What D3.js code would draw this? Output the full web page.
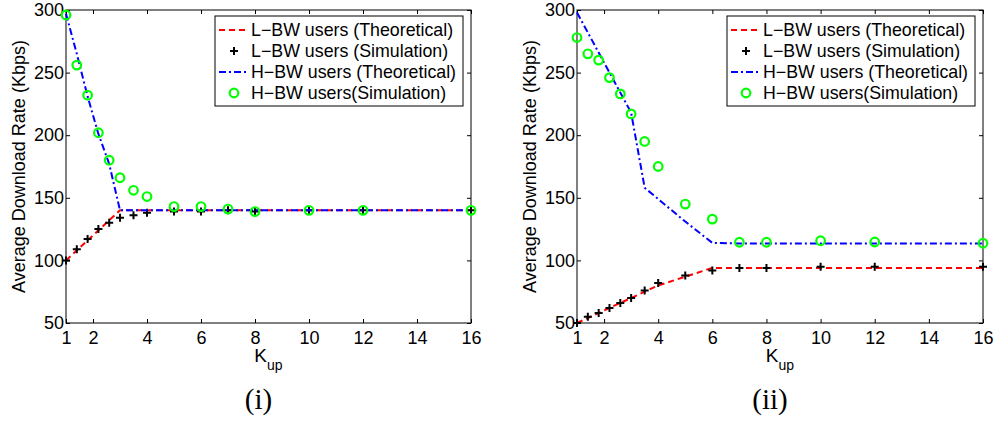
<!DOCTYPE html>
<html>
<head>
<meta charset="utf-8">
<script src="https://cdn.jsdelivr.net/npm/d3@7"></script>
<style>
  body { margin: 0; background: #fff; }
  svg text { font-family: "Liberation Sans", Arial, sans-serif; fill: #000; }
  .axis path { display: none; }
  .axis line { stroke: #000; stroke-width: 1; }
</style>
</head>
<body>
<svg id="chart" width="995" height="423"></svg>
<script>
// K_up values used in both panels
const kVals = [1, 1.4, 1.8, 2.2, 2.6, 3, 3.5, 4, 5, 6, 7, 8, 10, 12, 16];
const xTicks = [1, 2, 4, 6, 8, 10, 12, 14, 16];
const yTicks = [50, 100, 150, 200, 250, 300];

// panel (i)
const lowTheoryA = [100, 108, 116, 124, 132, 140, 140, 140, 140, 140, 140, 140, 140, 140, 140];
const lowSimA    = [100, 109, 117, 125, 130, 134, 136, 138, 139, 139, 140, 139, 140, 140, 140];
const highTheoryA = [297, 265, 231, 201, 177, 140, 140, 140, 140, 140, 140, 140, 140, 140, 140];
const highSimA    = [296, 256, 232, 202, 180, 166, 156, 151, 143, 143, 141, 139, 140, 140, 140];

// panel (ii)
const lowTheoryB = [50, 54, 58, 62, 66, 70, 75, 80, 87, 94, 94, 94, 94, 94, 94];
const lowSimB    = [50, 55, 58, 62, 66, 70, 76, 82, 88, 92, 94, 94, 95, 95, 95];
const highTheoryB = [298, 282, 266, 250, 234, 218, 158, 149, 131, 114, 113.5, 113.5, 113.5, 113.5, 113.5];
const highSimB    = [278, 265, 260, 246, 233, 217, 195, 175, 145, 133, 114.5, 114.5, 115.7, 114.7, 113.7];

const legendLabels = ["L\u2212BW users (Theoretical)", "L\u2212BW users (Simulation)",
                      "H\u2212BW users (Theoretical)", "H\u2212BW users(Simulation)"];

const svg = d3.select("#chart");
const plotTop = 10, plotBottom = 323;

function drawPanel(left, right, series, caption) {
    const x = d3.scaleLinear().domain([1, 16]).range([left, right]);
    const y = d3.scaleLinear().domain([50, 300]).range([plotBottom, plotTop]);
    const g = svg.append("g");

    // ticks, inward on all four sides
    g.append("g").attr("class", "axis")
        .attr("transform", "translate(0," + plotBottom + ")")
        .call(d3.axisBottom(x).tickValues(xTicks).tickSizeInner(-4).tickSizeOuter(0).tickPadding(8))
        .selectAll("text").style("font-size", "18px");
    g.append("g").attr("class", "axis")
        .attr("transform", "translate(0," + plotTop + ")")
        .call(d3.axisTop(x).tickValues(xTicks).tickSizeInner(-4).tickSizeOuter(0).tickFormat(""));
    g.append("g").attr("class", "axis")
        .attr("transform", "translate(" + left + ",0)")
        .call(d3.axisLeft(y).tickValues(yTicks).tickSizeInner(-4).tickSizeOuter(0).tickPadding(2))
        .selectAll("text").style("font-size", "18px");
    g.append("g").attr("class", "axis")
        .attr("transform", "translate(" + right + ",0)")
        .call(d3.axisRight(y).tickValues(yTicks).tickSizeInner(-4).tickSizeOuter(0).tickFormat(""));

    g.append("rect")
        .attr("x", left).attr("y", plotTop)
        .attr("width", right - left).attr("height", plotBottom - plotTop)
        .attr("fill", "none").attr("stroke", "#000").attr("stroke-width", 1);

    const line = d3.line().x((d, i) => x(kVals[i])).y(d => y(d));

    g.append("path").datum(series.lowTheory)
        .attr("d", line).attr("fill", "none")
        .attr("stroke", "#ff0000").attr("stroke-width", 2)
        .attr("stroke-dasharray", "6,4");

    g.selectAll(".cross").data(series.lowSim).enter().append("path")
        .attr("class", "cross")
        .attr("d", (d, i) => {
            const cx = x(kVals[i]), cy = y(d);
            return "M" + (cx - 4) + "," + cy + "H" + (cx + 4) + "M" + cx + "," + (cy - 4) + "V" + (cy + 4);
        })
        .attr("stroke", "#000").attr("stroke-width", 2);

    g.append("path").datum(series.highTheory)
        .attr("d", line).attr("fill", "none")
        .attr("stroke", "#0000ff").attr("stroke-width", 2)
        .attr("stroke-dasharray", "7,3,2,3");

    g.selectAll(".circ").data(series.highSim).enter().append("circle")
        .attr("class", "circ")
        .attr("cx", (d, i) => x(kVals[i])).attr("cy", d => y(d))
        .attr("r", 4.3).attr("fill", "none")
        .attr("stroke", "#00ff00").attr("stroke-width", 2.2);

    // legend
    const lx = right - 8 - 248, ly = 16;
    g.append("rect").attr("x", lx).attr("y", ly).attr("width", 248).attr("height", 90)
        .attr("fill", "#fff").attr("stroke", "#000").attr("stroke-width", 1);
    const rows = [30, 51, 72, 93];
    const sx1 = lx + 4, sx2 = lx + 34, mx = (sx1 + sx2) / 2;
    g.append("line").attr("x1", sx1).attr("x2", sx2).attr("y1", rows[0]).attr("y2", rows[0])
        .attr("stroke", "#ff0000").attr("stroke-width", 2).attr("stroke-dasharray", "6,4");
    g.append("path")
        .attr("d", "M" + (mx - 4) + "," + rows[1] + "H" + (mx + 4) + "M" + mx + "," + (rows[1] - 4) + "V" + (rows[1] + 4))
        .attr("stroke", "#000").attr("stroke-width", 2);
    g.append("line").attr("x1", sx1).attr("x2", sx2).attr("y1", rows[2]).attr("y2", rows[2])
        .attr("stroke", "#0000ff").attr("stroke-width", 2).attr("stroke-dasharray", "7,3,2,3");
    g.append("circle").attr("cx", mx).attr("cy", rows[3]).attr("r", 4.3)
        .attr("fill", "none").attr("stroke", "#00ff00").attr("stroke-width", 2.2);
    g.selectAll(".leg").data(legendLabels).enter().append("text")
        .attr("class", "leg")
        .attr("x", lx + 36).attr("y", (d, i) => rows[i]).attr("dy", "0.35em")
        .style("font-size", "17.8px")
        .text(d => d);

    // axis labels
    const midX = (left + right) / 2;
    const xl = g.append("text").attr("x", midX).attr("y", 362)
        .attr("text-anchor", "middle").style("font-size", "19px");
    xl.append("tspan").text("K");
    xl.append("tspan").attr("dy", 8).style("font-size", "14px").text("up");

    g.append("text")
        .attr("transform", "translate(" + (left - 47) + "," + ((plotTop + plotBottom) / 2) + ") rotate(-90)")
        .attr("text-anchor", "middle").attr("dy", "0.35em")
        .style("font-size", "18px")
        .text("Average Download Rate (Kbps)");

    g.append("text").attr("x", midX - 10).attr("y", 409)
        .attr("text-anchor", "middle")
        .style("font-family", "'Liberation Serif', 'DejaVu Serif', serif")
        .style("font-size", "29px")
        .text(caption);
}

drawPanel(66, 471, {lowTheory: lowTheoryA, lowSim: lowSimA, highTheory: highTheoryA, highSim: highSimA}, "(i)");
drawPanel(577, 983, {lowTheory: lowTheoryB, lowSim: lowSimB, highTheory: highTheoryB, highSim: highSimB}, "(ii)");
</script>
</body>
</html>
